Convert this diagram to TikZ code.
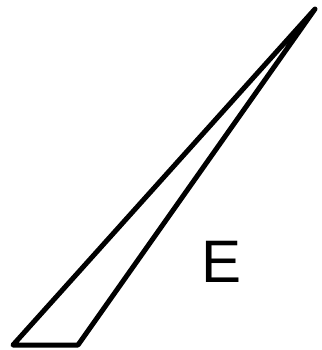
\documentclass[tikz,border=0pt]{standalone}
\usepackage{fontspec}
\setmainfont{Liberation Sans}
\begin{document}
\begin{tikzpicture}[x=1pt,y=-1pt,
  edge/.style={draw=black,line width=5pt,line join=round,line cap=round},
  lbl/.style={font=\fontsize{60}{60}\selectfont,inner sep=0pt,text=black}]
\useasboundingbox (0,0) rectangle (321,350);
\coordinate (bl) at (13,345);
\coordinate (br) at (78,345);
\coordinate (tp) at (315,9);
\draw[edge] (bl) -- (br) -- (tp) -- cycle;
\node[lbl] (e) at (222,262) {E};
\end{tikzpicture}
\end{document}
